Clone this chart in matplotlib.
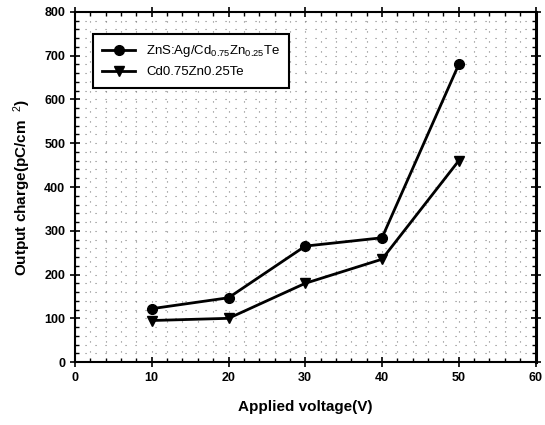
import matplotlib
matplotlib.use("Agg")
import matplotlib.pyplot as plt
from matplotlib.ticker import MultipleLocator

plt.rcParams['font.family'] = ['Liberation Sans', 'DejaVu Sans']
plt.rcParams['mathtext.fontset'] = 'custom'
plt.rcParams['mathtext.rm'] = 'Liberation Sans'
plt.rcParams['mathtext.it'] = 'Liberation Sans'
plt.rcParams['mathtext.bf'] = 'Liberation Sans:bold'

voltage = [10, 20, 30, 40, 50]
charge_znsag = [122, 147, 265, 284, 680]
charge_czt = [95, 100, 180, 235, 460]
label_znsag = r'ZnS:Ag/Cd$_{0.75}$Zn$_{0.25}$Te'
label_czt = 'Cd0.75Zn0.25Te'

fig = plt.figure(figsize=(5.45, 4.25), dpi=100)
ax = fig.add_axes([0.1376, 0.148, 0.845, 0.824])

ax.plot(voltage, charge_znsag, color='black', lw=2, marker='o', ms=7, label=label_znsag)
ax.plot(voltage, charge_czt, color='black', lw=2, marker='v', ms=7, label=label_czt)

ax.set_xlim(0, 60)
ax.set_ylim(0, 800)
ax.xaxis.set_major_locator(MultipleLocator(10))
ax.xaxis.set_minor_locator(MultipleLocator(2))
ax.yaxis.set_major_locator(MultipleLocator(100))
ax.yaxis.set_minor_locator(MultipleLocator(20))
ax.grid(which='both', color='0.5', linestyle=(0, (1, 8)), linewidth=0.8)
ax.tick_params(which='major', direction='inout', length=7, width=1.2, labelsize=9)
ax.tick_params(which='minor', direction='in', length=3, width=1)
ax.tick_params(top=True, right=True, which='both')
ax.tick_params(labeltop=False, labelright=False)
for lab in ax.get_xticklabels() + ax.get_yticklabels():
    lab.set_fontweight('bold')
for s in ax.spines.values():
    s.set_linewidth(1.5)
ax.spines['right'].set_linewidth(2.2)

ax.set_xlabel('Applied voltage(V)', fontsize=11, fontweight='bold', labelpad=12)
ax.set_ylabel(r'Output charge(pC/cm  $^{2}$)', fontsize=11, fontweight='bold', labelpad=8)

leg = ax.legend(loc='upper left', bbox_to_anchor=(0.025, 0.955), frameon=True, fancybox=False,
                edgecolor='black', fontsize=9.5, handlelength=2.5, borderpad=0.7, labelspacing=0.5)
leg.get_frame().set_linewidth(1.5)
leg.get_frame().set_alpha(1)

fig.savefig('out.png', dpi=100)
